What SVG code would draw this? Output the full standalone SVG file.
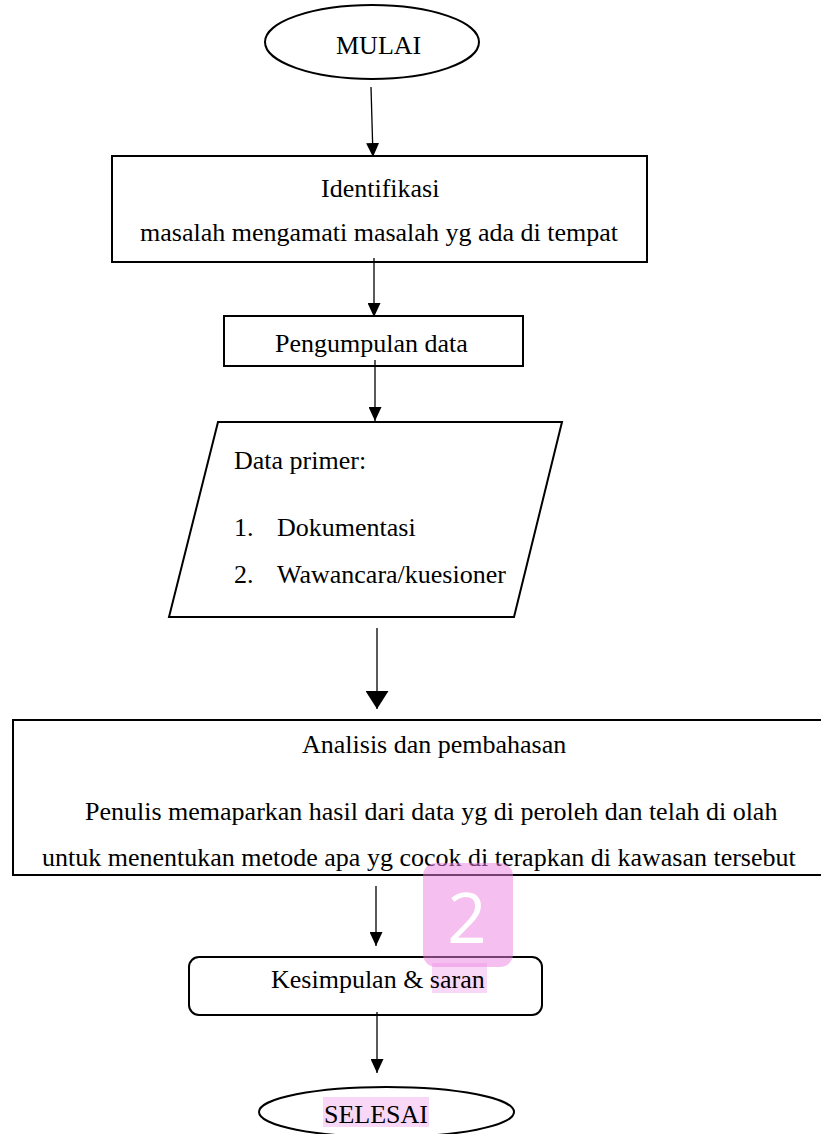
<svg xmlns="http://www.w3.org/2000/svg" width="821" height="1134" viewBox="0 0 821 1134">
<style>
.t{font-family:"Liberation Serif","Times New Roman",serif;font-size:26px;fill:#000}
.b{fill:#fff;stroke:#000;stroke-width:2}
.c{stroke:#000;stroke-width:1.3;fill:none}
.hl{fill:rgb(240,168,234);opacity:0.45}
</style>
<defs>
<marker id="ah" markerUnits="userSpaceOnUse" markerWidth="14" markerHeight="13" refX="14" refY="6.5" orient="auto">
<path d="M0,0 L14,6.5 L0,13 Z" fill="#000"/>
</marker>
<marker id="ahb" markerUnits="userSpaceOnUse" markerWidth="18" markerHeight="23" refX="18" refY="11.5" orient="auto">
<path d="M0,0 L18,11.5 L0,23 Z" fill="#000"/>
</marker>
</defs>
<rect width="821" height="1134" fill="#fff"/>

<g id="mulai">
<ellipse class="b" cx="372" cy="42" rx="107" ry="37"/>
<text class="t" x="336" y="54">MULAI</text>
</g>

<g id="identifikasi">
<rect class="b" x="112" y="156" width="535" height="106"/>
<text class="t" x="321" y="197">Identifikasi</text>
<text class="t" x="140" y="241">masalah mengamati masalah yg ada di tempat</text>
</g>

<g id="pengumpulan">
<rect class="b" x="224" y="316" width="299" height="50"/>
<text class="t" x="275" y="352">Pengumpulan data</text>
</g>

<g id="data-primer">
<polygon class="b" points="218,422 562,422 514,617 169,617" stroke-width="1.5"/>
<text class="t" x="234" y="469">Data primer:</text>
<text class="t" x="234" y="536">1.</text>
<text class="t" x="277" y="536">Dokumentasi</text>
<text class="t" x="234" y="583">2.</text>
<text class="t" x="277" y="583">Wawancara/kuesioner</text>
</g>

<g id="analisis">
<path class="b" d="M823,720 L13,720 L13,875 L823,875"/>
<text class="t" x="302" y="753">Analisis dan pembahasan</text>
<text class="t" x="85" y="820">Penulis memaparkan hasil dari data yg di peroleh dan telah di olah</text>
<text class="t" x="42" y="866">untuk menentukan metode apa yg cocok di terapkan di kawasan tersebut</text>
</g>

<g id="kesimpulan">
<rect class="b" x="189" y="957" width="353" height="58" rx="10" ry="10"/>
<rect class="hl" x="432" y="963" width="55" height="30"/>
<text class="t" x="271" y="988">Kesimpulan &amp; saran</text>
</g>

<g id="selesai">
<ellipse class="b" cx="386.5" cy="1112" rx="127.5" ry="25"/>
<rect class="hl" x="323" y="1097" width="106" height="30"/>
<text class="t" x="324" y="1123">SELESAI</text>
</g>

<g id="connectors">
<line class="c" x1="371" y1="87" x2="373" y2="157" marker-end="url(#ah)"/>
<line class="c" x1="374" y1="258" x2="374" y2="317" marker-end="url(#ah)"/>
<line class="c" x1="375" y1="360" x2="375" y2="421" marker-end="url(#ah)"/>
<line class="c" x1="377" y1="628" x2="377" y2="709" stroke-width="2" marker-end="url(#ahb)"/>
<line class="c" x1="376" y1="886" x2="376" y2="946" marker-end="url(#ah)"/>
<line class="c" x1="377" y1="1012" x2="377" y2="1073" marker-end="url(#ah)"/>
</g>

<g id="badge">
<rect x="423" y="863" width="90" height="104" rx="13" ry="13" fill="rgb(235,130,225)" opacity="0.5"/>
<text x="467" y="943" text-anchor="middle" font-family="'Open Sans','Noto Sans',sans-serif" font-size="69" fill="#fff">2</text>
</g>
</svg>
